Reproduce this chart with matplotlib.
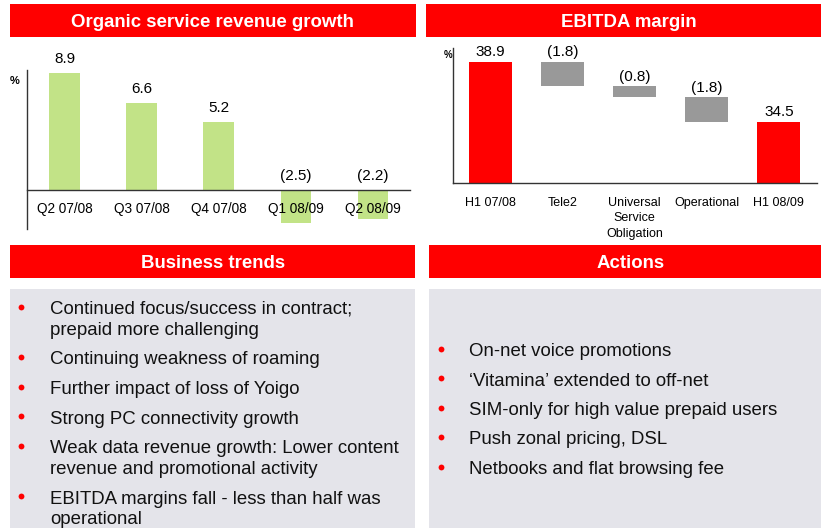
import matplotlib.pyplot as plt
from matplotlib.patches import Rectangle

plt.rcParams['font.family'] = ['Liberation Sans', 'DejaVu Sans']

# data
quarters = ['Q2 07/08', 'Q3 07/08', 'Q4 07/08', 'Q1 08/09', 'Q2 08/09']
growth = [8.9, 6.6, 5.2, -2.5, -2.2]

steps = ['H1 07/08', 'Tele2', 'Universal\nService\nObligation', 'Operational', 'H1 08/09']
margin_change = [38.9, -1.8, -0.8, -1.8, 34.5]
is_total = [True, False, False, False, True]

trends = [
    'Continued focus/success in contract;\nprepaid more challenging',
    'Continuing weakness of roaming',
    'Further impact of loss of Yoigo',
    'Strong PC connectivity growth',
    'Weak data revenue growth: Lower content\nrevenue and promotional activity',
    'EBITDA margins fall - less than half was\noperational',
]
actions = [
    'On-net voice promotions',
    '\u2018Vitamina\u2019 extended to off-net',
    'SIM-only for high value prepaid users',
    'Push zonal pricing, DSL',
    'Netbooks and flat browsing fee',
]

RED = '#FF0000'
GREEN = '#C2E387'
GREY = '#999999'
PANEL = '#E4E4EA'

W, H = 821, 528
fig = plt.figure(figsize=(W / 100, H / 100), dpi=100)

# background layer in pixel coordinates
bg = fig.add_axes([0, 0, 1, 1], zorder=0)
bg.set_xlim(0, W)
bg.set_ylim(H, 0)
bg.axis('off')


def header(x0, x1, y0, y1, title, tx):
    bg.add_patch(Rectangle((x0, y0), x1 - x0, y1 - y0, color=RED, lw=0))
    bg.text(tx, y1 - 10, title, color='white', fontsize=13.4, fontweight='bold',
            ha='center', va='baseline')


header(10, 416, 4, 37, 'Organic service revenue growth', 212)
header(426, 833, 4, 37, 'EBITDA margin', 629)
header(10, 415, 245, 278, 'Business trends', 213)
header(429, 833, 245, 278, 'Actions', 631)

bg.add_patch(Rectangle((10, 289), 405, 240, color=PANEL, lw=0))
bg.add_patch(Rectangle((429, 289), 392, 240, color=PANEL, lw=0))


def bullets(items, xb, xt, y):
    for item in items:
        for k, line in enumerate(item.split('\n')):
            if k == 0:
                bg.plot(xb, y - 7.5, 'o', color=RED, markersize=4.2, markeredgewidth=0)
            bg.text(xt, y, line, color='#111111', fontsize=13.4, va='baseline')
            y += 21
        y += 29.5 - 21


bullets(trends, 21, 50, 314)
bullets(actions, 441, 469, 356)

bg.text(15, 84, '%', fontsize=8, fontweight='bold', ha='center', va='baseline')
bg.text(448, 58, '%', fontsize=7, fontweight='bold', ha='center', va='baseline')


def fmt(v):
    return f'{v:.1f}' if v >= 0 else f'({-v:.1f})'


# organic service revenue growth
ax1 = fig.add_axes([27 / W, 1 - 229 / H, (410 - 27) / W, (229 - 70) / H], zorder=1)
ax1.patch.set_alpha(0)
x1 = range(len(quarters))
ax1.bar(x1, growth, width=0.4, color=GREEN, zorder=1)
ax1.set_xlim(-0.49, 4.48)
ax1.set_ylim(-2.97, 9.13)
for s in ['top', 'right']:
    ax1.spines[s].set_visible(False)
ax1.spines['bottom'].set_position(('data', 0))
for s in ['left', 'bottom']:
    ax1.spines[s].set_color('#333333')
    ax1.spines[s].set_linewidth(1)
ax1.set_yticks([])
ax1.set_xticks(list(x1), quarters)
ax1.tick_params(axis='x', length=0, pad=9, labelsize=9.8)
for i, v in enumerate(growth):
    ax1.annotate(fmt(v), (i, max(v, 0)), xytext=(0, 5), textcoords='offset points',
                 ha='center', va='bottom', fontsize=11)

# EBITDA margin waterfall
ax2 = fig.add_axes([453 / W, 1 - 183 / H, (817 - 453) / W, (183 - 48) / H], zorder=1)
ax2.patch.set_alpha(0)
level = 0
bottoms, heights, colors, tops = [], [], [], []
for v, tot in zip(margin_change, is_total):
    if tot:
        bottoms.append(0)
        heights.append(v)
        colors.append(RED)
        tops.append(v)
        level = v
    else:
        bottoms.append(level + v)
        heights.append(-v)
        colors.append(GREY)
        tops.append(level)
        level += v
x2 = range(len(steps))
ax2.bar(x2, heights, bottom=bottoms, width=0.6, color=colors)
ax2.set_xlim(-0.52, 4.53)
ax2.set_ylim(30, 39.93)
for s in ['top', 'right']:
    ax2.spines[s].set_visible(False)
for s in ['left', 'bottom']:
    ax2.spines[s].set_color('#333333')
    ax2.spines[s].set_linewidth(1)
ax2.set_yticks([])
ax2.set_xticks(list(x2), steps)
ax2.tick_params(axis='x', length=0, pad=10, labelsize=9)
for lbl in ax2.get_xticklabels():
    lbl.set_linespacing(1.4)
for i, (v, t) in enumerate(zip(margin_change, tops)):
    ax2.annotate(fmt(v), (i, t), xytext=(0, 2), textcoords='offset points',
                 ha='center', va='bottom', fontsize=11)

fig.savefig('out.png', dpi=100)
